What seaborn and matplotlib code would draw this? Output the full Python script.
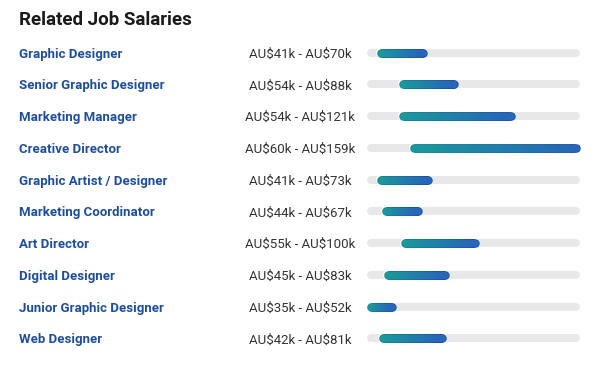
import matplotlib
matplotlib.use("Agg")
import matplotlib.pyplot as plt
import matplotlib.transforms as mtransforms
from matplotlib.collections import LineCollection
from matplotlib.colors import LinearSegmentedColormap
import numpy as np
import seaborn as sns

# ---- data (AU$ thousands) ----
jobs = [
    "Graphic Designer",
    "Senior Graphic Designer",
    "Marketing Manager",
    "Creative Director",
    "Graphic Artist / Designer",
    "Marketing Coordinator",
    "Art Director",
    "Digital Designer",
    "Junior Graphic Designer",
    "Web Designer",
]
low_k = [41, 54, 54, 60, 41, 44, 55, 45, 35, 42]
high_k = [70, 88, 121, 159, 73, 67, 100, 83, 52, 81]
scale_min, scale_max = 35, 159

sns.set_theme(style="white")
plt.rcParams["font.family"] = ["Roboto", "DejaVu Sans"]
plt.rcParams["text.usetex"] = False

fig = plt.figure(figsize=(6, 3.76), dpi=100)
ax = fig.add_axes([0.6, 0.058, 0.3833, 0.844])
ax.set_xlim(31.1, 164.8)
ax.set_ylim(len(jobs) - 0.5, -0.5)
ax.axis("off")

px_per_k = 230 / (164.8 - 31.1)


def pt(px):
    return px * 72 / fig.dpi


cap = 4 / px_per_k  # round cap half-width in data units

fill_cmap = LinearSegmentedColormap.from_list("fill", ["#1a9a9c", "#2766b8"])
edge_cmap = LinearSegmentedColormap.from_list("edge", ["#168690", "#1d52a2"])

row_tf = mtransforms.blended_transform_factory(fig.transFigure, ax.transData)
row_tf = mtransforms.offset_copy(row_tf, fig=fig, y=-1.5, units="dots")

for i, (job, lo, hi) in enumerate(zip(jobs, low_k, high_k)):
    # grey track
    ax.plot([scale_min + cap, scale_max - cap], [i, i], color="#e8e8ea",
            lw=pt(8), solid_capstyle="round", zorder=1)
    # range bar with left-to-right gradient
    xs = np.linspace(lo + cap, hi - cap, 60)
    segs = [[(xs[j], i), (xs[j + 1], i)] for j in range(len(xs) - 1)]
    t = np.linspace(0, 1, len(segs))
    ax.plot([lo + cap, hi - cap], [i, i], color="white", lw=pt(10),
            solid_capstyle="round", zorder=2)
    ax.add_collection(LineCollection(segs, colors=edge_cmap(t), linewidths=pt(8.6),
                                     capstyle="round", zorder=3))
    ax.add_collection(LineCollection(segs, colors=fill_cmap(t), linewidths=pt(7),
                                     capstyle="round", zorder=4))

    fig.text(19 / 600, i, job, transform=row_tf, ha="left", va="center",
             fontsize=9.5, fontweight="bold", color="#1d4e9e")
    fig.text(300 / 600, i, f"AU\\${lo}k - AU\\${hi}k", transform=row_tf,
             ha="center", va="center", fontsize=9.5, color="#333333")

fig.text(19 / 600, 1 - 20 / 376, "Related Job Salaries", ha="left", va="center",
         fontsize=13.5, fontweight="bold", color="#1a1a1a")

fig.savefig("out.png", dpi=100, facecolor="white")
